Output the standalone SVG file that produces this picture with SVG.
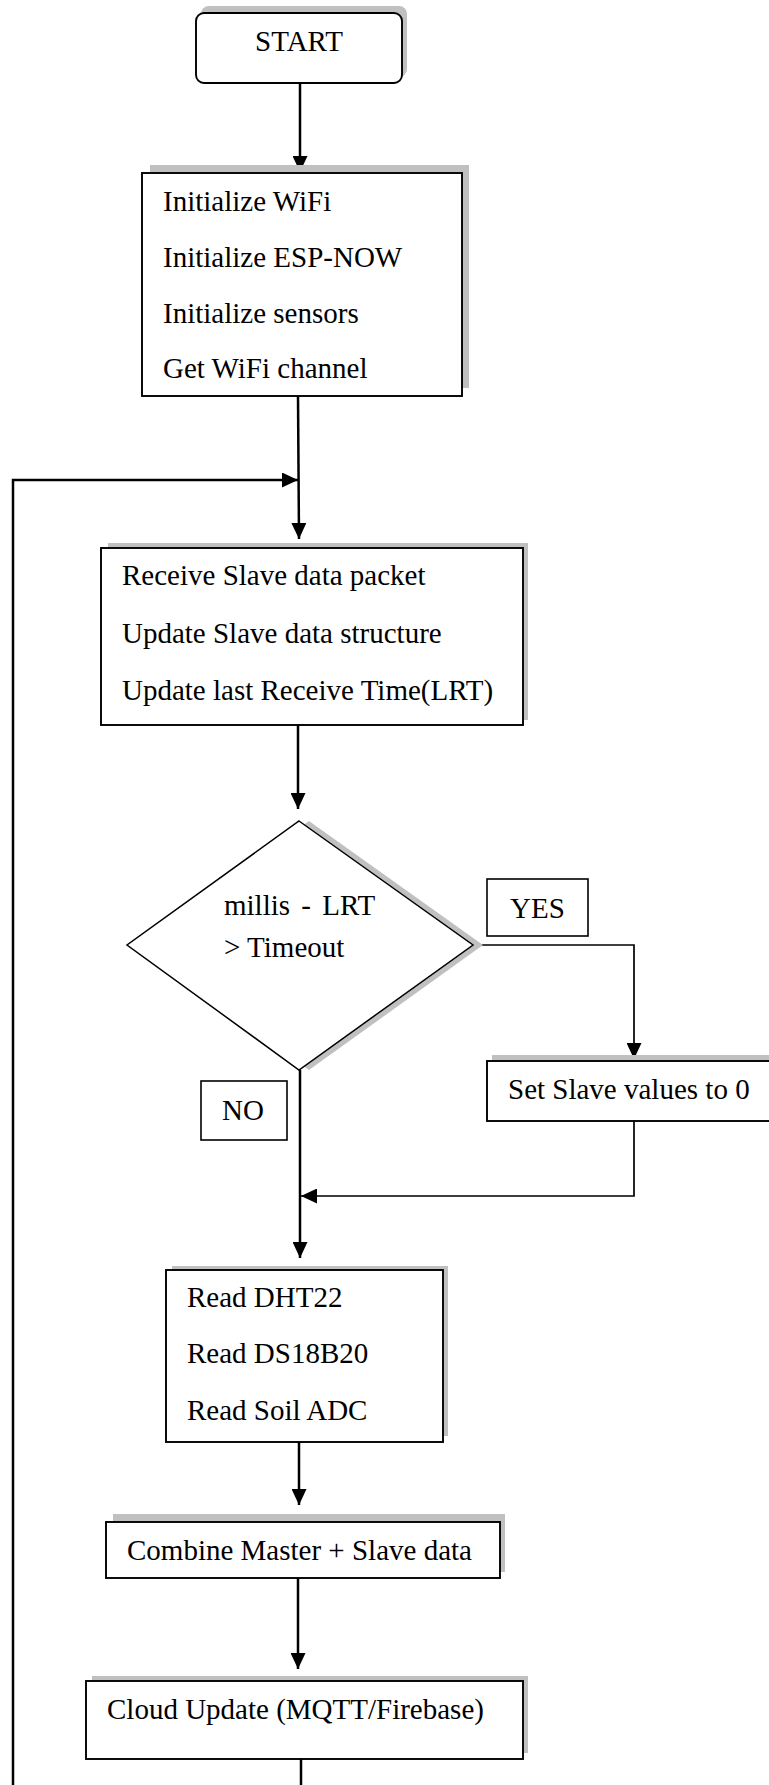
<svg xmlns="http://www.w3.org/2000/svg" width="769" height="1785" viewBox="0 0 769 1785">
  <style>
    text { font-family: "Liberation Serif", "Times New Roman", serif; font-size: 29px; fill: #000; }
    .box { fill: #fff; stroke: #000; stroke-width: 1.9; }
    .shadow { fill: #c0c0c0; stroke: none; }
    .lbl { fill: #fff; stroke: #000; stroke-width: 1.6; }
    .wire { fill: none; stroke: #000; stroke-width: 2.5; }
    .wire.thin { stroke-width: 1.7; }
    .mid { text-anchor: middle; }
  </style>
  <defs>
    <marker id="arrow" viewBox="0 0 16 15" refX="16" refY="7.5" markerWidth="16" markerHeight="15" markerUnits="userSpaceOnUse" orient="auto">
      <path d="M0,0 L16,7.5 L0,15 z" fill="#000"/>
    </marker>
  </defs>

  <rect width="769" height="1785" fill="#fff"/>

  <!-- flow lines -->
  <g id="connectors">
    <path class="wire" d="M300,83 V172" marker-end="url(#arrow)"/>
    <path class="wire" d="M298,396 L299,539" marker-end="url(#arrow)"/>
    <path class="wire" d="M13,1785 V480 H298" marker-end="url(#arrow)"/>
    <path class="wire" d="M298,725 V809" marker-end="url(#arrow)"/>
    <path class="wire thin" d="M473,945 H634 V1059" marker-end="url(#arrow)"/>
    <path class="wire thin" d="M634,1121 V1196 H301" marker-end="url(#arrow)"/>
    <path class="wire" d="M300,1070 V1258" marker-end="url(#arrow)"/>
    <path class="wire" d="M299,1442 V1505" marker-end="url(#arrow)"/>
    <path class="wire" d="M298,1578 V1669" marker-end="url(#arrow)"/>
    <path class="wire" d="M301,1759 V1785"/>
  </g>

  <g id="start">
    <rect class="shadow" x="201" y="6" width="206" height="71" rx="8"/>
    <rect class="box" x="196" y="13" width="206" height="70" rx="8"/>
    <text class="mid" x="299" y="51">START</text>
  </g>

  <g id="init">
    <rect class="shadow" x="150" y="165" width="319" height="223"/>
    <rect class="box" x="142" y="173" width="320" height="223"/>
    <text x="163" y="211">Initialize WiFi</text>
    <text x="163" y="267">Initialize ESP-NOW</text>
    <text x="163" y="323">Initialize sensors</text>
    <text x="163" y="378">Get WiFi channel</text>
  </g>

  <g id="receive">
    <rect class="shadow" x="108" y="543" width="420" height="177"/>
    <rect class="box" x="101" y="548" width="422" height="177"/>
    <text x="122" y="585">Receive Slave data packet</text>
    <text x="122" y="643">Update Slave data structure</text>
    <text x="122" y="700">Update last Receive Time(LRT)</text>
  </g>

  <g id="timeout-check">
    <polygon class="shadow" points="309,821 483,945 309,1070 135,945"/>
    <polygon fill="#fff" stroke="#000" stroke-width="1.5" points="299,821 473,945 299,1070 127,945"/>
    <text x="224" y="915" word-spacing="4">millis - LRT</text>
    <text x="224" y="957">&gt; Timeout</text>
  </g>

  <g id="label-yes">
    <rect class="lbl" x="487" y="879" width="101" height="57"/>
    <text class="mid" x="537.5" y="918">YES</text>
  </g>

  <g id="label-no">
    <rect class="lbl" x="201" y="1081" width="86" height="59"/>
    <text class="mid" x="243" y="1120">NO</text>
  </g>

  <g id="reset-slave">
    <rect class="shadow" x="492" y="1055" width="290" height="60"/>
    <rect class="box" x="487" y="1061" width="292" height="60"/>
    <text x="508" y="1099">Set Slave values to 0</text>
  </g>

  <g id="read-sensors">
    <rect class="shadow" x="172" y="1266" width="276" height="170"/>
    <rect class="box" x="166" y="1270" width="277" height="172"/>
    <text x="187" y="1307">Read DHT22</text>
    <text x="187" y="1363">Read DS18B20</text>
    <text x="187" y="1420">Read Soil ADC</text>
  </g>

  <g id="combine">
    <rect class="shadow" x="113" y="1514" width="392" height="58"/>
    <rect class="box" x="106" y="1522" width="394" height="56"/>
    <text x="127" y="1560">Combine Master + Slave data</text>
  </g>

  <g id="cloud-update">
    <rect class="shadow" x="92" y="1676" width="436" height="77"/>
    <rect class="box" x="86" y="1681" width="437" height="78"/>
    <text x="107" y="1719">Cloud Update (MQTT/Firebase)</text>
  </g>
</svg>
